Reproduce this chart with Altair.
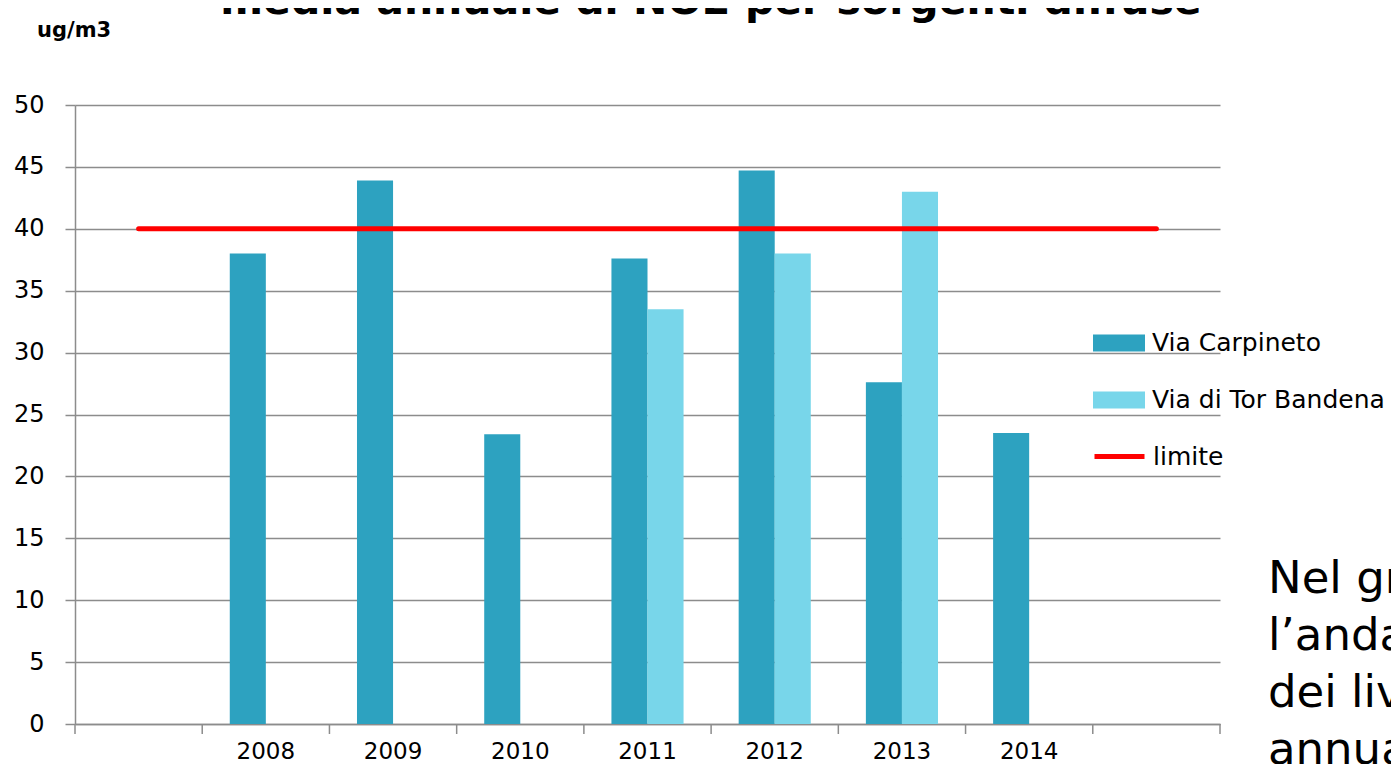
import altair as alt
import pandas as pd

FONT = "DejaVu Sans"
GRID = "#8c8c8c"

slots = ["s0", "2008", "2009", "2010", "2011", "2012", "2013", "2014", "s1"]
years = ["2008", "2009", "2010", "2011", "2012", "2013", "2014"]
carpineto = [38.0, 43.9, 23.4, 37.6, 44.7, 27.6, 23.5]
tor_bandena = [None, None, None, 33.5, 38.0, 43.0, None]
limite = 40
series = ["Via Carpineto", "Via di Tor Bandena"]
colors = ["#2DA2C0", "#78D6EA"]
limit_label = "limite"
title_text = "media annuale di NO2 per sorgenti diffuse"
unit_text = "ug/m3"
note_lines = ["Nel gr", "l\u2019anda", "dei liv", "annua"]

rows = []
for y, c, t in zip(years, carpineto, tor_bandena):
    rows.append({"anno": y, "serie": series[0], "valore": c})
    if t is not None:
        rows.append({"anno": y, "serie": series[1], "valore": t})
bars_df = pd.DataFrame(rows)
line_df = pd.DataFrame({
    "anno": [slots[0], slots[-1]],
    "valore": [limite, limite],
    "serie": [limit_label, limit_label],
})

x_scale = alt.Scale(domain=slots, paddingInner=0, paddingOuter=0)
x_enc = alt.X(
    "anno:N",
    scale=x_scale,
    axis=alt.Axis(
        title=None,
        labelExpr="indexof(datum.value, 's') == 0 ? '' : datum.label",
        ticks=False,
        domainColor=GRID,
        domainWidth=1.5,
        labelFontSize=23,
        labelPadding=16,
        labelBaseline="top",
        labelAngle=0,
        labelColor="black",
        labelFont=FONT,
        grid=False,
    ),
)
y_enc = alt.Y(
    "valore:Q",
    scale=alt.Scale(domain=[0, 50], nice=False),
    axis=alt.Axis(
        title=None,
        values=list(range(0, 51, 5)),
        tickSize=10,
        tickColor=GRID,
        tickWidth=1.5,
        domainColor=GRID,
        domainWidth=1.5,
        grid=True,
        gridColor=GRID,
        gridWidth=1.5,
        labelFontSize=24,
        labelPadding=21,
        labelColor="black",
        labelFont=FONT,
    ),
)

bars = alt.Chart(bars_df).mark_bar().encode(
    x=x_enc,
    xOffset=alt.XOffset(
        "serie:N",
        scale=alt.Scale(domain=series, paddingInner=0, paddingOuter=0.764),
    ),
    y=y_enc,
    fill=alt.Fill(
        "serie:N",
        scale=alt.Scale(domain=series, range=colors),
        legend=alt.Legend(
            title=None,
            orient="none",
            legendX=1018,
            legendY=212,
            padding=0,
            symbolType="M-1,-0.33L1,-0.33L1,0.33L-1,0.33Z",
            symbolSize=2704,
            symbolStrokeWidth=0,
            labelFontSize=25,
            labelFont=FONT,
            labelColor="black",
            labelOffset=7,
            labelLimit=400,
            rowPadding=18,
        ),
    ),
)

# x tick marks at the band boundaries (slot edges)
tick_df = pd.DataFrame({"anno": slots})
ticks = alt.Chart(tick_df).mark_rule(color=GRID, strokeWidth=1.5).encode(
    x=alt.X("anno:N", scale=x_scale, bandPosition=0),
    y=alt.value(619),
    y2=alt.value(629),
)
end_tick = alt.Chart(tick_df.tail(1)).mark_rule(color=GRID, strokeWidth=1.5).encode(
    x=alt.X("anno:N", scale=x_scale, bandPosition=1),
    y=alt.value(619),
    y2=alt.value(629),
)

line = alt.Chart(line_df).mark_line(strokeWidth=5, strokeCap="round").encode(
    x=alt.X("anno:N", scale=x_scale),
    y=alt.Y("valore:Q"),
    stroke=alt.Stroke(
        "serie:N",
        scale=alt.Scale(domain=[limit_label], range=["#FF0000"]),
        legend=alt.Legend(
            title=None,
            orient="none",
            legendX=1017,
            legendY=324,
            padding=0,
            symbolType="stroke",
            symbolSize=2500,
            symbolStrokeWidth=5,
            labelFontSize=25,
            labelFont=FONT,
            labelColor="black",
            labelOffset=6,
            labelLimit=400,
        ),
    ),
)

title_df = pd.DataFrame({"t": [title_text]})
title = alt.Chart(title_df).mark_text(
    font=FONT, fontSize=41, fontWeight="bold", align="center",
    baseline="alphabetic", color="black",
).encode(x=alt.value(636), y=alt.value(-91), text="t:N")

unit_df = pd.DataFrame({"t": [unit_text]})
unit = alt.Chart(unit_df).mark_text(
    font=FONT, fontSize=21, fontWeight="bold", align="left",
    baseline="alphabetic", color="black",
).encode(x=alt.value(-38), y=alt.value(-68), text="t:N")

note_df = pd.DataFrame({"t": ["\n".join(note_lines)]})
note = alt.Chart(note_df).mark_text(
    font=FONT, fontSize=45, align="left", baseline="alphabetic",
    color="black", lineBreak="\n", lineHeight=57,
).encode(x=alt.value(1193), y=alt.value(488), text="t:N")

chart = alt.layer(bars, line, ticks, end_tick, title, unit, note).resolve_scale(
    fill="independent", stroke="independent"
).properties(
    width=1145,
    height=619,
    padding={"left": 67, "top": 97, "right": 171, "bottom": 40},
    autosize=alt.AutoSizeParams(type="none"),
    background="white",
).configure_view(stroke=None).configure_axis(labelFont=FONT).configure_text(font=FONT)

chart.save("out.html", embed_options={"renderer": "svg", "actions": False})
